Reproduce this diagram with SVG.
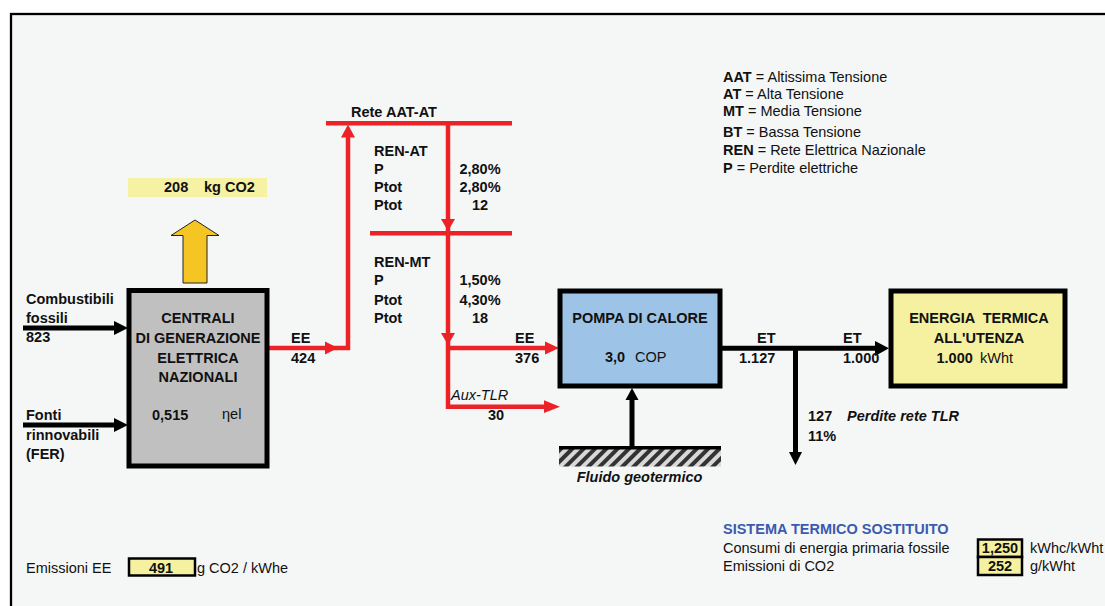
<svg xmlns="http://www.w3.org/2000/svg" width="1105" height="606" viewBox="0 0 1105 606">
<style>
text{font-family:"Liberation Sans",Arial,sans-serif;font-size:14.5px;fill:#111}
.b{font-weight:bold}
.i{font-style:italic}
.m{text-anchor:middle}
.red{stroke:#ec2227;stroke-width:4.5;fill:none}
.blk{stroke:#000;stroke-width:5;fill:none}
.rh{fill:#ec2227}
.bh{fill:#000}
.box{stroke:#000;stroke-width:5}
.yb{fill:#f5f1a0;stroke:#000;stroke-width:2.5}
</style>
<defs>
<pattern id="hatch" patternUnits="userSpaceOnUse" width="8" height="8" patternTransform="rotate(45)">
<rect width="8" height="8" fill="#d8d8d8"/>
<rect width="4" height="8" fill="#333"/>
</pattern>
</defs>
<rect width="1105" height="606" fill="#fff"/>
<rect x="11" y="14" width="1110" height="610" fill="#f5f7f7" stroke="#000" stroke-width="2.3"/>

<g id="connectors">
<!-- Combustibili -->
<line class="blk" x1="23" y1="328" x2="115" y2="328"/>
<polygon class="bh" points="114,321 128,328 114,335"/>
<!-- Fonti -->
<line class="blk" x1="23" y1="425" x2="115" y2="425"/>
<polygon class="bh" points="114,418 128,425 114,432"/>
<!-- EE 424 -->
<polyline class="red" points="269,348 348,348 348,136"/>
<polygon class="rh" points="325,341.5 338,348 325,354.5"/>
<polygon class="rh" points="341,137.5 348,124.5 355,137.5"/>
<!-- Rete bars -->
<line class="red" x1="326" y1="123.3" x2="512" y2="123.3"/>
<line class="red" x1="370" y1="233.3" x2="512" y2="233.3"/>
<!-- down verticals -->
<line class="red" x1="448" y1="123" x2="448" y2="409"/>
<polygon class="rh" points="441,219 448,231 455,219"/>
<polygon class="rh" points="441,333 448,345 455,333"/>
<!-- EE 376 -->
<line class="red" x1="448" y1="348" x2="548" y2="348"/>
<polygon class="rh" points="545,341.5 559,348 545,354.5"/>
<!-- Aux-TLR -->
<line class="red" x1="446" y1="406.7" x2="548" y2="406.7"/>
<polygon class="rh" points="544,400.3 560,406.7 544,413"/>
<!-- ET -->
<line class="blk" x1="722" y1="348.3" x2="877" y2="348.3"/>
<polygon class="bh" points="875,341 889,348.3 875,356"/>
<line class="blk" x1="795.5" y1="348" x2="795.5" y2="455" stroke-width="4.5"/>
<polygon class="bh" points="789,452 795.5,465 802,452"/>
<!-- geothermal -->
<line class="blk" x1="632" y1="465" x2="632" y2="398" stroke-width="4.5"/>
<polygon class="bh" points="625.5,400 632,388 638.5,400"/>
</g>

<g id="co2-label">
<rect x="128" y="178" width="139" height="19" fill="#f5f2a3"/>
<text class="b" x="164" y="192">208</text>
<text class="b" x="204" y="192">kg CO2</text>
</g>

<g id="co2-arrow">
<polygon points="183,283 207,283 207,235.5 219,235.5 195,220 171,235.5 183,235.5" fill="#f5c623" stroke="#222" stroke-width="1"/>
</g>

<g id="centrali">
<rect class="box" x="129" y="290.5" width="138" height="175.5" fill="#c0c0c0"/>
<text class="b m" x="198" y="323">CENTRALI</text>
<text class="b m" x="198" y="342.5">DI GENERAZIONE</text>
<text class="b m" x="198" y="362.5">ELETTRICA</text>
<text class="b m" x="198" y="381.5">NAZIONALI</text>
<text class="b" x="152" y="420">0,515</text>
<text x="222" y="419">ηel</text>
</g>

<g id="inputs">
<text class="b" x="26" y="304.3">Combustibili</text>
<text class="b" x="26" y="322.7">fossili</text>
<text class="b" x="26" y="342.3">823</text>
<text class="b" x="26" y="420">Fonti</text>
<text class="b" x="26" y="440">rinnovabili</text>
<text class="b" x="26" y="459">(FER)</text>
</g>

<g id="ee424">
<text class="b" x="291" y="343">EE</text>
<text class="b" x="291" y="362.5">424</text>
</g>

<g id="rete">
<text class="b" x="351" y="116.5">Rete AAT-AT</text>
<text class="b" x="374" y="156">REN-AT</text>
<text class="b" x="374" y="173.5">P</text>
<text class="b" x="374" y="192">Ptot</text>
<text class="b" x="374" y="210">Ptot</text>
<text class="b m" x="480" y="173.5">2,80%</text>
<text class="b m" x="480" y="192">2,80%</text>
<text class="b m" x="480" y="210">12</text>
<text class="b" x="374" y="266.7">REN-MT</text>
<text class="b" x="374" y="285">P</text>
<text class="b" x="374" y="305">Ptot</text>
<text class="b" x="374" y="322.7">Ptot</text>
<text class="b m" x="480" y="285">1,50%</text>
<text class="b m" x="480" y="305">4,30%</text>
<text class="b m" x="480" y="322.7">18</text>
</g>

<g id="ee376">
<text class="b" x="515" y="342.7">EE</text>
<text class="b" x="515" y="362.5">376</text>
<text class="i" x="451" y="400">Aux-TLR</text>
<text class="b" x="488" y="420">30</text>
</g>

<g id="pompa">
<rect class="box" x="560" y="291" width="160" height="95" fill="#9dc3e6"/>
<text class="b m" x="640" y="323.3">POMPA DI CALORE</text>
<text class="b" x="605" y="362.3">3,0</text>
<text x="635" y="362.3">COP</text>
</g>

<g id="geotermico">
<rect x="559" y="449" width="162" height="17.5" fill="url(#hatch)"/>
<rect x="559" y="446" width="162" height="3.5" fill="#000"/>
<text class="b i m" x="639.5" y="481.5">Fluido geotermico</text>
</g>

<g id="et">
<text class="b" x="757" y="342.7">ET</text>
<text class="b" x="739" y="362.7">1.127</text>
<text class="b" x="843" y="342.7">ET</text>
<text class="b" x="843" y="362.7">1.000</text>
<text class="b" x="808" y="420.5">127</text>
<text class="b" x="808" y="440.5">11%</text>
<text class="b i" x="847" y="420.5">Perdite rete TLR</text>
</g>

<g id="energia">
<rect class="box" x="891" y="291" width="174" height="95" fill="#f5f1a0"/>
<text class="b m" x="979" y="322.7" xml:space="preserve">ENERGIA  TERMICA</text>
<text class="b m" x="979" y="342.7">ALL'UTENZA</text>
<text class="b" x="936.5" y="362.7">1.000</text>
<text x="980" y="362.7">kWht</text>
</g>

<g id="legend">
<text x="723" y="81.7"><tspan class="b">AAT</tspan> = Altissima Tensione</text>
<text x="723" y="99.3"><tspan class="b">AT</tspan> = Alta Tensione</text>
<text x="723" y="115.7"><tspan class="b">MT</tspan> = Media Tensione</text>
<text x="723" y="137.3"><tspan class="b">BT</tspan> = Bassa Tensione</text>
<text x="723" y="155"><tspan class="b">REN</tspan> = Rete Elettrica Nazionale</text>
<text x="723" y="172.7"><tspan class="b">P</tspan> = Perdite elettriche</text>
</g>

<g id="sistema">
<text class="b" x="723" y="534.3" style="fill:#3a5bb0">SISTEMA TERMICO SOSTITUITO</text>
<text x="723" y="553">Consumi di energia primaria fossile</text>
<text x="723" y="570.7">Emissioni di CO2</text>
<rect class="yb" x="978" y="539.5" width="44" height="17.5"/>
<rect class="yb" x="978" y="557" width="44" height="18"/>
<text class="b m" x="1000" y="553">1,250</text>
<text class="b m" x="1000" y="571">252</text>
<text x="1030" y="553">kWhc/kWht</text>
<text x="1030" y="570.7">g/kWht</text>
</g>

<g id="emissioni-ee">
<text x="26" y="573">Emissioni EE</text>
<rect class="yb" x="129" y="558.5" width="66" height="17" stroke-width="2.3"/>
<text class="b m" x="161" y="573">491</text>
<text x="197" y="573">g CO2 / kWhe</text>
</g>
</svg>
